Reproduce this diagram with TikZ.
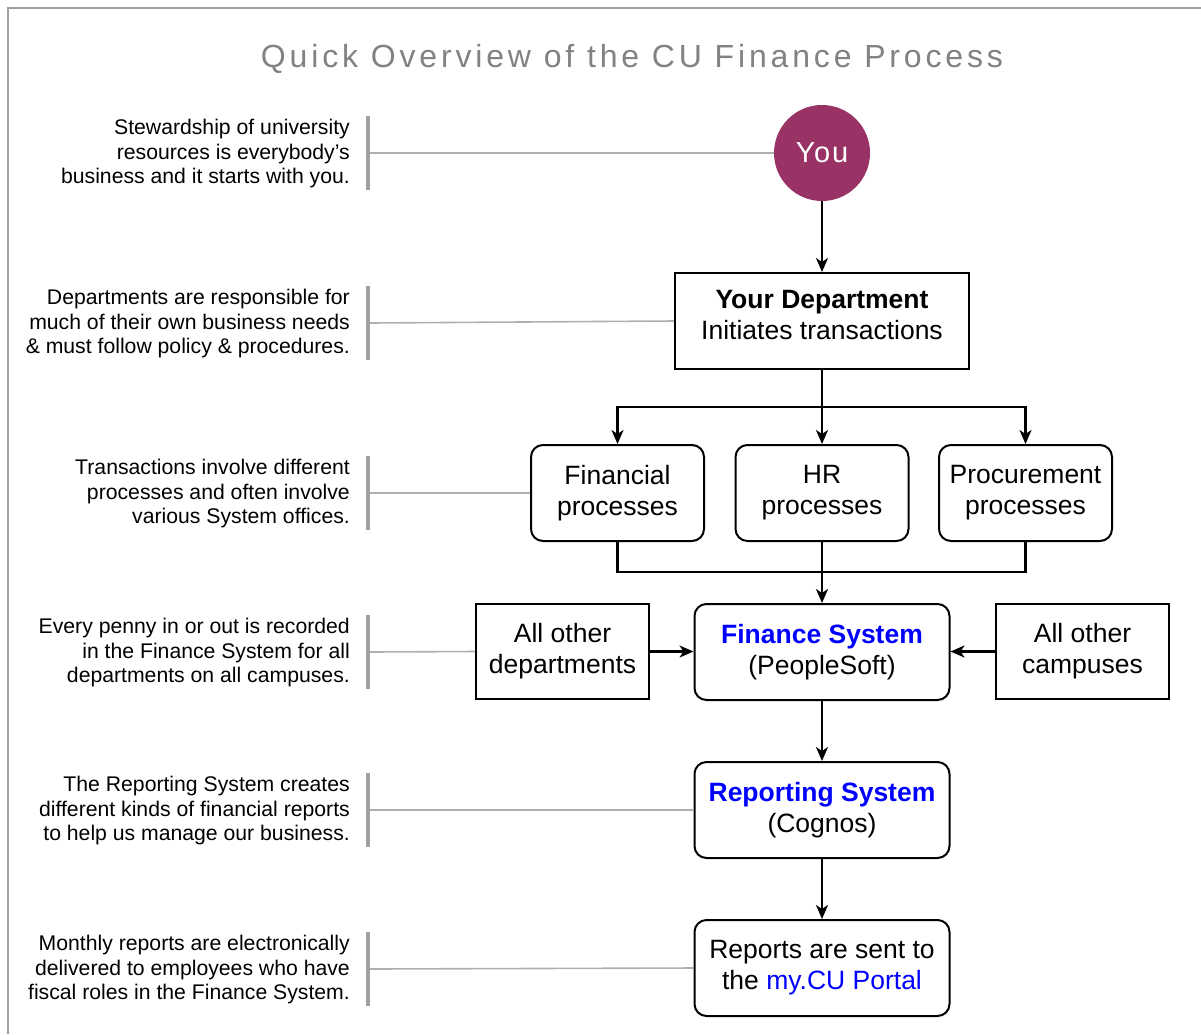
\documentclass[tikz,border=0pt]{standalone}
\usepackage{fontspec}
\setmainfont{Liberation Sans}
\newfontfamily\titlefont[LetterSpace=12]{Liberation Sans}
\newfontfamily\youfont[LetterSpace=6]{Liberation Sans}
\usetikzlibrary{arrows.meta}
\definecolor{youcol}{RGB}{153,51,102}
\definecolor{framecol}{RGB}{160,160,160}
\definecolor{linkcol}{RGB}{175,175,175}
\definecolor{barcol}{RGB}{160,160,160}
\definecolor{titlecol}{RGB}{130,130,130}
\definecolor{bluetxt}{RGB}{0,0,255}
\tikzset{
  sqbox/.style={draw=black, line width=2pt, fill=white, align=center, inner sep=0pt,
    font=\fontsize{26.5}{31}\selectfont},
  rbox/.style={sqbox, rounded corners=12pt},
  btext/.style={align=center, inner sep=0pt, font=\fontsize{26.5}{31}\selectfont},
  note/.style={anchor=east, align=right, inner sep=0pt, font=\fontsize{21.2}{24.5}\selectfont},
  bar/.style={draw=barcol, line width=3.5pt},
  link/.style={draw=linkcol, line width=1.6pt},
  flow/.style={draw=black, line width=2.2pt},
  arr/.style={flow, -{Stealth[length=14pt,width=12pt,inset=4pt]}},
}
\begin{document}
\begin{tikzpicture}[x=1pt,y=-1pt]
\useasboundingbox (0,0) rectangle (1201,1034);
% frame
\coordinate (fa) at (1201,8);
\coordinate (fb) at (8,8);
\coordinate (fc) at (8,1034);
\draw[framecol, line width=2pt] (fa) -- (fb) -- (fc);
% title
\node[text=titlecol, font=\titlefont\fontsize{32}{38}\selectfont] (title) at (632,59) {Quick Overview of the CU Finance Process};

% main nodes
\node[circle, fill=youcol, minimum size=96pt, inner sep=0pt, text=white,
  font=\youfont\fontsize{29}{32}\selectfont] (you) at (822,153) {You};
\node[sqbox, minimum width=294pt, minimum height=96pt] (dept) at (822,321) {};
\node[btext] (deptt) at (822,315) {\textbf{Your Department}\\Initiates transactions};
\node[rbox, minimum width=173pt, minimum height=96pt] (fin) at (617.5,493) {Financial\\processes};
\node[rbox, minimum width=173pt, minimum height=96pt] (hr) at (822,493) {HR\\processes};
\node[rbox, minimum width=173pt, minimum height=96pt] (proc) at (1025.5,493) {Procurement\\processes};
\node[rbox, minimum width=255pt, minimum height=96pt] (fs) at (822,652)
  {\textcolor{bluetxt}{\textbf{Finance System}}\\(PeopleSoft)};
\node[sqbox, minimum width=173pt, minimum height=95pt] (odep) at (562.5,651.5) {All other\\departments};
\node[sqbox, minimum width=173pt, minimum height=95pt] (ocam) at (1082.5,651.5) {All other\\campuses};
\node[rbox, minimum width=255pt, minimum height=96pt] (rep) at (822,810)
  {\textcolor{bluetxt}{\textbf{Reporting System}}\\(Cognos)};
\node[rbox, minimum width=255pt, minimum height=96pt] (sent) at (822,968)
  {Reports are sent to\\the \textcolor{bluetxt}{my.CU Portal}};

% flow connectors
\draw[arr] (you.south) -- (dept.north);
\coordinate (split) at (822,407);
\draw[flow] (dept.south) -- (split);
\draw[arr] (split) -| (fin.north);
\draw[arr] (split) -| (proc.north);
\draw[arr] (split) -- (hr.north);
\coordinate (merge) at (822,572);
\draw[flow] (fin.south) |- (merge);
\draw[flow] (proc.south) |- (merge);
\draw[flow] (hr.south) -- (merge);
\draw[arr] (merge) -- (fs.north);
\draw[arr] (odep.east) -- (fs.west |- odep.east);
\draw[arr] (ocam.west) -- (fs.east |- ocam.west);
\draw[arr] (fs.south) -- (rep.north);
\draw[arr] (rep.south) -- (sent.north);

% notes
\node[note] (n1) at (350,154) {Stewardship of university\\resources is everybody’s\\business and it starts with you.};
\node[note] (n2) at (350,324) {Departments are responsible for\\much of their own business needs\\\& must follow policy \& procedures.};
\node[note] (n3) at (350,494) {Transactions involve different\\processes and often involve\\various System offices.};
\node[note] (n4) at (350,653) {Every penny in or out is recorded\\in the Finance System for all\\departments on all campuses.};
\node[note] (n5) at (350,811) {The Reporting System creates\\different kinds of financial reports\\to help us manage our business.};
\node[note] (n6) at (350,970) {Monthly reports are electronically\\delivered to employees who have\\fiscal roles in the Finance System.};

% bars
\foreach \n/\c in {1/153,2/323,3/493,4/652,5/810,6/969}{
  \coordinate (bt\n) at (368,\c-37);
  \coordinate (bb\n) at (368,\c+37);
  \coordinate (bm\n) at (370,\c);
  \draw[bar] (bt\n) -- (bb\n);
}
% links
\draw[link] (bm1) -- (you.west);
\draw[link] (bm2) -- (dept.west);
\draw[link] (bm3) -- (fin.west);
\draw[link] (bm4) -- (odep.west);
\draw[link] (bm5) -- (rep.west);
\draw[link] (bm6) -- (sent.west);
\end{tikzpicture}
\end{document}
